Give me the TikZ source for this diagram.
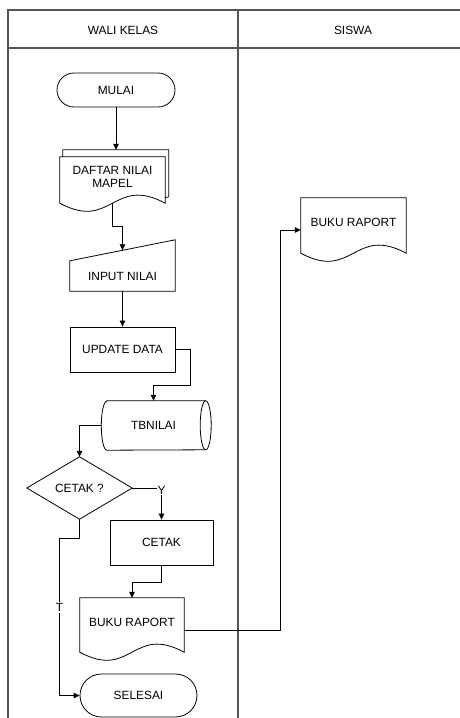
\documentclass[tikz,border=0pt]{standalone}
\usepackage{fontspec}
\setmainfont{Liberation Sans}
\usetikzlibrary{shapes.misc,arrows.meta,calc}
\definecolor{lanegray}{RGB}{85,85,85}
\begin{document}
\begin{tikzpicture}[x=1pt,y=-1pt,
  font=\fontsize{11.9}{13}\selectfont,
  shp/.style={draw=black,line width=0.8pt},
  box/.style={shp,rectangle,inner sep=0pt,align=center},
  term/.style={shp,rounded rectangle,inner sep=0pt},
  plain/.style={draw=none,inner sep=0pt,align=center},
  conn/.style={line width=0.8pt,-{Triangle[length=6pt,width=5.5pt]}},
  lbl/.style={fill=white,inner sep=1pt},
  lane/.style={line width=1.2pt,draw=lanegray}]
\useasboundingbox (0,0) rectangle (460,718);
% swimlane frame
\draw[lane] (8,718) -- (8,10) -- (460,10);
\draw[lane] (8,48) -- (460,48);
\draw[lane] (238,10) -- (238,718);
\node (h1) at (123,30) {WALI KELAS};
\node (h2) at (353,30) {SISWA};

% MULAI
\node[term,minimum width=118pt,minimum height=34pt] (mulai) at (116,90) {MULAI};

% DAFTAR NILAI MAPEL (multi-document)
\node[plain,minimum width=105pt,minimum height=39pt] (daftar) at (112.5,176.5) {DAFTAR NILAI\\MAPEL};
\draw[shp] ([yshift=-7pt]daftar.south west) -- (daftar.north west) -- (daftar.north east)
  -- ([yshift=-7pt]daftar.south east) .. controls +(-52,-28) and +(52,28) .. ([yshift=-7pt]daftar.south west) -- cycle;
\draw[shp] ([xshift=3pt]daftar.north west) -- ++(0,-7) -- ++(106,0) -- ++(0,47) -- ++(-4,1);
\coordinate (dback) at ([yshift=7pt]daftar.north);

% INPUT NILAI (manual input)
\node[plain,minimum width=105pt,minimum height=30pt] (inp) at (122.5,276) {INPUT NILAI};
\draw[shp] (inp.south west) -- (inp.north west) -- ([yshift=21pt]inp.north east) -- (inp.south east) -- cycle;
\coordinate (inptop) at ($(inp.north west)!0.5!([yshift=21pt]inp.north east)$);

% UPDATE DATA
\node[box,minimum width=105pt,minimum height=45pt] (upd) at (122.5,349.5) {UPDATE DATA};

% TBNILAI (stored data)
\node[plain,minimum width=104pt,minimum height=49pt] (tb) at (153.5,425.5) {TBNILAI};
\draw[shp] ([xshift=5.5pt]tb.north west) -- (tb.north east)
  arc[start angle=90,end angle=-90,x radius=5.5pt,y radius=24.5pt]
  -- ([xshift=5.5pt]tb.south west)
  arc[start angle=270,end angle=90,x radius=5.5pt,y radius=24.5pt] -- cycle;
\draw[shp] (tb.north east) arc[start angle=90,end angle=270,x radius=5.5pt,y radius=24.5pt];

% CETAK ?
\node[plain,minimum width=105pt,minimum height=62pt] (dia) at (79.5,488) {CETAK ?};
\draw[shp] (dia.north) -- (dia.east) -- (dia.south) -- (dia.west) -- cycle;

% CETAK
\node[box,minimum width=103pt,minimum height=45pt] (cetak) at (161.5,542.5) {CETAK};

% BUKU RAPORT (wali kelas)
\node[plain,minimum width=104pt,minimum height=48pt] (rap) at (132,622) {BUKU RAPORT};
\draw[shp] ([yshift=-6pt]rap.south west) -- (rap.north west) -- (rap.north east)
  -- ([yshift=-6pt]rap.south east) .. controls +(-52,-28) and +(52,28) .. ([yshift=-6pt]rap.south west) -- cycle;

% BUKU RAPORT (siswa)
\node[plain,minimum width=105pt,minimum height=48pt] (bk) at (353.5,222) {BUKU RAPORT};
\draw[shp] ([yshift=-7pt]bk.south west) -- (bk.north west) -- (bk.north east)
  -- ([yshift=-7pt]bk.south east) .. controls +(-52,-28) and +(52,28) .. ([yshift=-7pt]bk.south west) -- cycle;

% SELESAI
\node[term,minimum width=117pt,minimum height=43pt] (sel) at (138.5,695.5) {SELESAI};

% connectors
\draw[conn] (mulai.south) -- (mulai.south |- dback);
\draw[conn] ([yshift=-7pt]daftar.south) -- ++(0,23) -| (inptop);
\draw[conn] (inp.south) -- (upd.north);
\draw[conn] (upd.east) -- ++(15,0) -- ++(0,35.5) -| (tb.north);
\draw[conn] (tb.west) -| (dia.north);
\draw[conn] (dia.east) -| node[lbl,pos=0.5,yshift=-2pt] (ylab) {Y} (cetak.north);
\draw[conn] (dia.south) |- ++(-20,19) |- node[lbl,pos=0.22] (tlab) {T} (sel.west);
\draw[conn] (cetak.south) -- ++(0,17) -| (rap.north);
\draw[conn] ([yshift=-8pt]rap.east) -| ([xshift=-20pt,yshift=-8pt]bk.west) -- ([yshift=-8pt]bk.west);
\end{tikzpicture}
\end{document}
